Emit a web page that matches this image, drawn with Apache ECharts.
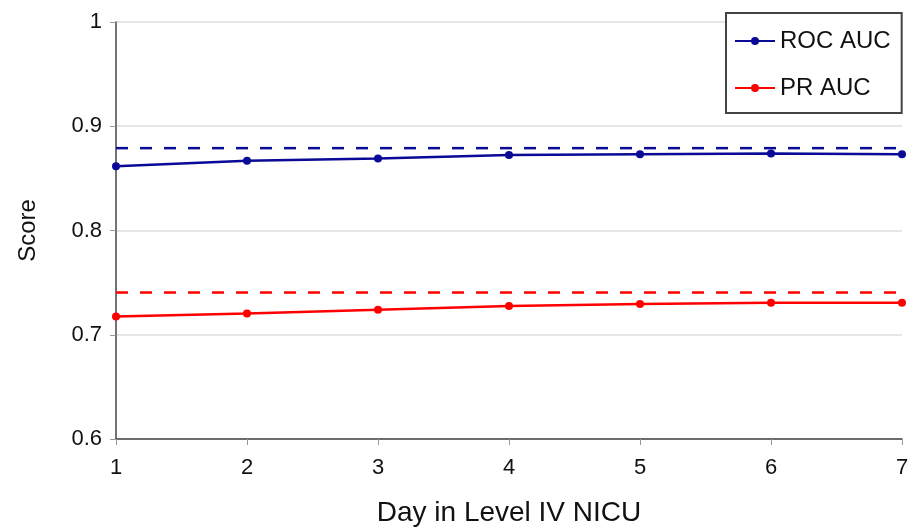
<!DOCTYPE html>
<html>
<head>
<meta charset="utf-8">
<script src="https://cdn.jsdelivr.net/npm/echarts@6/dist/echarts.min.js"></script>
<style>html,body{margin:0;padding:0;background:#fff}#c{width:910px;height:529px}</style>
</head>
<body>
<div id="c"></div>
<script>
var days = [1, 2, 3, 4, 5, 6, 7];
var rocAuc = [0.8617, 0.8669, 0.8691, 0.8725, 0.8732, 0.8738, 0.8732];
var prAuc = [0.7175, 0.7204, 0.7239, 0.7275, 0.7294, 0.7306, 0.7306];
var rocBaseline = 0.879;
var prBaseline = 0.7405;
var yTicks = [0.6, 0.7, 0.8, 0.9, 1];

var font = '"Liberation Sans", Arial, sans-serif';
var navy = '#0a0a96';
var red = '#ff0000';

function pts(vals) { return days.map(function (d, i) { return [d, vals[i]]; }); }
function flat(v) { return [[days[0], v], [days[days.length - 1], v]]; }

var chart = echarts.init(document.getElementById('c'), null, {renderer: 'canvas'});
chart.setOption({
  animation: false,
  backgroundColor: '#fff',
  grid: {left: 116, right: 8, top: 22, bottom: 90, containLabel: false, outerBoundsMode: 'none'},
  legend: {
    data: ['ROC AUC', 'PR AUC'],
    orient: 'vertical',
    left: 726, top: 13,
    padding: [16, 11, 13, 8],
    itemGap: 23,
    itemWidth: 40, itemHeight: 10,
    borderColor: '#444', borderWidth: 2,
    backgroundColor: '#fff',
    textStyle: {fontFamily: font, fontSize: 24, color: '#111'}
  },
  xAxis: {
    type: 'value', min: 1, max: 7, interval: 1,
    name: 'Day in Level IV NICU', nameLocation: 'middle', nameGap: 60,
    nameTextStyle: {fontFamily: font, fontSize: 28, color: '#111'},
    axisLine: {show: true, lineStyle: {color: '#444', width: 1.5}},
    axisTick: {show: true, length: 6, lineStyle: {color: '#999'}},
    axisLabel: {fontFamily: font, fontSize: 22, color: '#111', margin: 18},
    splitLine: {show: false}
  },
  yAxis: {
    type: 'value', min: yTicks[0], max: yTicks[yTicks.length - 1], interval: 0.1,
    name: 'Score', nameLocation: 'middle', nameGap: 76,
    nameTextStyle: {fontFamily: font, fontSize: 24, color: '#111'},
    axisLine: {show: true, lineStyle: {color: '#444', width: 1.5}},
    axisTick: {show: true, length: 6, lineStyle: {color: '#999'}},
    axisLabel: {fontFamily: font, fontSize: 22, color: '#111', margin: 14,
      formatter: function (v) { return String(+v.toFixed(1)); }},
    splitLine: {show: true, lineStyle: {color: '#dedede', width: 1.5}}
  },
  series: [
    {name: 'ROC AUC', type: 'line', data: pts(rocAuc), symbol: 'circle', symbolSize: 8,
     lineStyle: {color: navy, width: 2.5}, itemStyle: {color: navy}, z: 3},
    {name: 'PR AUC', type: 'line', data: pts(prAuc), symbol: 'circle', symbolSize: 8,
     lineStyle: {color: red, width: 2.5}, itemStyle: {color: red}, z: 3},
    {name: 'ROC baseline', type: 'line', data: flat(rocBaseline), symbol: 'none',
     lineStyle: {color: navy, width: 2.5, type: [12, 12]}, z: 2},
    {name: 'PR baseline', type: 'line', data: flat(prBaseline), symbol: 'none',
     lineStyle: {color: red, width: 2.5, type: [12, 12]}, z: 2}
  ]
});
</script>
</body>
</html>
